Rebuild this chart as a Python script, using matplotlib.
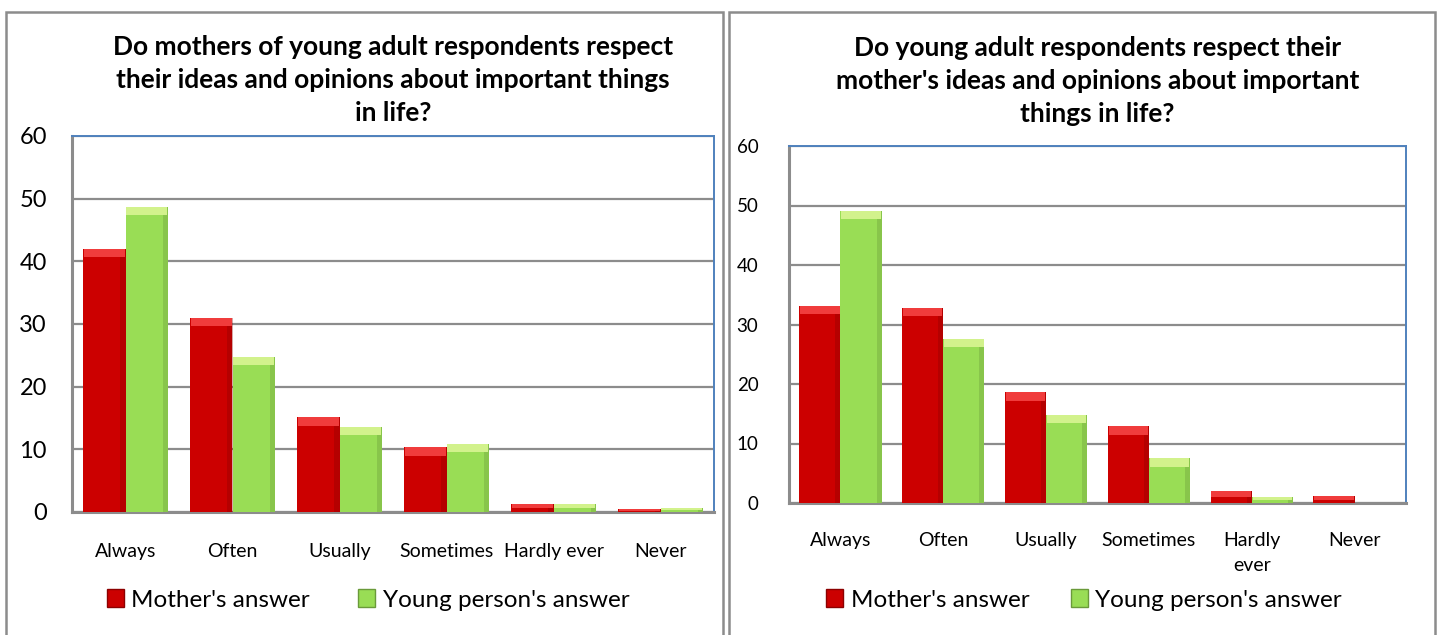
import numpy as np
import matplotlib.pyplot as plt
from matplotlib.patches import Patch, Rectangle

categories_left = ["Always", "Often", "Usually", "Sometimes", "Hardly ever", "Never"]
categories_right = ["Always", "Often", "Usually", "Sometimes", "Hardly\never", "Never"]

mother_left = [42.0, 31.0, 15.1, 10.3, 1.3, 0.4]
young_left = [48.7, 24.7, 13.6, 10.8, 1.3, 0.7]

mother_right = [33.1, 32.8, 18.6, 12.9, 2.1, 1.1]
young_right = [49.1, 27.6, 14.8, 7.5, 1.0, 0.0]

title_left = "Do mothers of young adult respondents respect\ntheir ideas and opinions about important things\nin life?"
title_right = "Do young adult respondents respect their\nmother's ideas and opinions about important\nthings in life?"
series_names = ["Mother's answer", "Young person's answer"]

RED = "#cc0000"
RED_TOP = "#f03c3c"
RED_EDGE = "#8c0000"
GREEN = "#99dd55"
GREEN_TOP = "#d2f28c"
GREEN_EDGE = "#6a9a3a"
GRID = "#8c8c8c"
BLUE = "#4f81bd"

W, H = 1440, 635
fig = plt.figure(figsize=(W / 100, H / 100), dpi=100)
fig.patch.set_facecolor("white")

regular = ["Lato", "DejaVu Sans"]


def px(x0, y0, x1, y1):
    # pixel box (top-left origin) -> figure fraction rect
    return [x0 / W, 1 - y1 / H, (x1 - x0) / W, (y1 - y0) / H]


def bevel_bars(ax, x, vals, width, body, top, edge, band):
    vals = np.asarray(vals)
    ax.bar(x, vals, width, color=body, edgecolor="none", zorder=3)
    # darker strip along the right side
    ax.bar(x + width * 0.44, vals, width * 0.12, color=edge, alpha=0.35,
           edgecolor="none", zorder=4)
    # light cap on top of each bar
    cap = np.minimum(band, vals * 0.5)
    ax.bar(x, cap, width * 0.96, bottom=vals - cap, color=top,
           edgecolor="none", zorder=5)


def draw_panel(rect, cats, mother, young, title, ysize, ypad, xpad,
               title_y, legend_x, colspace, band):
    ax = fig.add_axes(px(*rect))
    x = np.arange(len(cats))
    w = 0.4
    bevel_bars(ax, x - w / 2, mother, w, RED, RED_TOP, RED_EDGE, band)
    bevel_bars(ax, x + w / 2, young, w, GREEN, GREEN_TOP, GREEN_EDGE, band)

    ax.set_xlim(-0.5, len(cats) - 0.5)
    ax.set_ylim(0, 60)
    ax.set_yticks(range(0, 61, 10))
    ax.set_xticks(x)
    ax.set_xticklabels(cats, family=regular, fontsize=14, linespacing=1.55)
    for lab in ax.get_yticklabels():
        lab.set_family(regular)
        lab.set_fontsize(ysize)
    ax.tick_params(axis="both", length=0, colors="black")
    ax.tick_params(axis="y", pad=ypad)
    ax.tick_params(axis="x", pad=xpad)
    ax.yaxis.grid(True, color=GRID, lw=1.6, zorder=1)
    ax.set_axisbelow(True)
    for s in ("left", "bottom"):
        ax.spines[s].set_color(GRID)
        ax.spines[s].set_linewidth(2.2)
    for s in ("top", "right"):
        ax.spines[s].set_color(BLUE)
        ax.spines[s].set_linewidth(1.4)

    cx = (rect[0] + rect[2]) / 2
    fig.text(cx / W, 1 - title_y / H, title, ha="center", va="top",
             fontsize=19, fontweight="bold", family=regular,
             linespacing=1.45)

    handles = [Patch(facecolor=RED, edgecolor=RED_EDGE),
               Patch(facecolor=GREEN, edgecolor=GREEN_EDGE)]
    fig.legend(handles, series_names, loc="center", ncol=2,
               bbox_to_anchor=(legend_x / W, 1 - 600 / H), frameon=False,
               prop={"family": regular, "size": 17.5}, handlelength=0.7,
               handleheight=0.7, handletextpad=0.3, columnspacing=colspace)
    return ax


draw_panel((72, 136, 714, 512), categories_left, mother_left, young_left,
           title_left, 17, 18, 22, 35, 368, 2.0, 1.3)
draw_panel((789, 146, 1406, 503), categories_right, mother_right, young_right,
           title_right, 13.5, 22, 21, 36, 1084, 1.7, 1.4)

# outer chart borders
for x0, x1 in ((6, 723), (729, 1435)):
    fig.patches.append(Rectangle((x0 / W, -0.05), (x1 - x0) / W,
                                 1.05 - 12 / H, transform=fig.transFigure,
                                 fill=False, edgecolor="#8c8c8c", lw=1.8))

fig.savefig("out.png", dpi=100, facecolor="white")
